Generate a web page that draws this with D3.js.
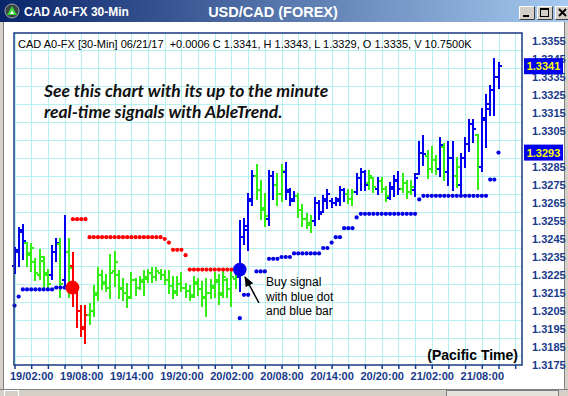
<!DOCTYPE html>
<html>
<head>
<meta charset="utf-8">
<script src="https://cdn.jsdelivr.net/npm/d3@7"></script>
<style>
  body { margin: 0; background: #fff; overflow: hidden; }
  text { font-family: "Liberation Sans", Arial, sans-serif; }
</style>
</head>
<body>
<div id="chart"></div>
<script>
// 30-min bars from 19/00:00 to 21/10:00 (117 bars)
const startTime = new Date(2017, 5, 19, 0, 0);

const opens = [
  1.3230, 1.3238, 1.3249, 1.3243, 1.3237, 1.3232, 1.3225, 1.3233, 1.3225, 1.3225,
  1.3238, 1.3242, 1.3222, 1.3238, 1.3230, 1.3215, 1.3205, 1.3195, 1.3203, 1.3205,
  1.3214, 1.3225, 1.3221, 1.3218, 1.3227, 1.3225, 1.3217, 1.3215, 1.3213, 1.3222,
  1.3218, 1.3221, 1.3223, 1.3226, 1.3224, 1.3226, 1.3225, 1.3222, 1.3219, 1.3216,
  1.3220, 1.3218, 1.3216, 1.3214, 1.3220, 1.3217, 1.3212, 1.3215, 1.3218, 1.3221,
  1.3215, 1.3222, 1.3217, 1.3223, 1.3224, 1.3246, 1.3250, 1.3267, 1.3280, 1.3272,
  1.3261, 1.3256, 1.3280, 1.3275, 1.3270, 1.3282, 1.3271, 1.3267, 1.3269, 1.3261,
  1.3256, 1.3253, 1.3255, 1.3265, 1.3260, 1.3266, 1.3266, 1.3265, 1.3266, 1.3272,
  1.3270, 1.3267, 1.3271, 1.3279, 1.3282, 1.3276, 1.3279, 1.3273, 1.3277, 1.3273,
  1.3268, 1.3273, 1.3277, 1.3273, 1.3276, 1.3271, 1.3272, 1.3281, 1.3293, 1.3291,
  1.3284, 1.3289, 1.3284, 1.3296, 1.3282, 1.3290, 1.3280, 1.3275, 1.3290, 1.3298,
  1.3309, 1.3303, 1.3285, 1.3311, 1.3320, 1.3328, 1.3335
];
const highs = [
  1.3240, 1.3251, 1.3253, 1.3243, 1.3242, 1.3234, 1.3239, 1.3235, 1.3228, 1.3241,
  1.3245, 1.3245, 1.3258, 1.3245, 1.3237, 1.3217, 1.3208, 1.3208, 1.3209, 1.3219,
  1.3229, 1.3227, 1.3225, 1.3236, 1.3238, 1.3227, 1.3223, 1.3220, 1.3226, 1.3223,
  1.3224, 1.3227, 1.3228, 1.3229, 1.3229, 1.3228, 1.3227, 1.3227, 1.3224, 1.3224,
  1.3226, 1.3220, 1.3219, 1.3224, 1.3223, 1.3221, 1.3223, 1.3222, 1.3226, 1.3225,
  1.3227, 1.3223, 1.3227, 1.3226, 1.3255, 1.3256, 1.3270, 1.3283, 1.3286, 1.3277,
  1.3270, 1.3283, 1.3282, 1.3281, 1.3286, 1.3287, 1.3273, 1.3271, 1.3270, 1.3264,
  1.3259, 1.3258, 1.3268, 1.3266, 1.3269, 1.3272, 1.3267, 1.3268, 1.3274, 1.3273,
  1.3272, 1.3272, 1.3281, 1.3284, 1.3283, 1.3283, 1.3279, 1.3279, 1.3279, 1.3274,
  1.3276, 1.3280, 1.3282, 1.3281, 1.3277, 1.3277, 1.3281, 1.3299, 1.3302, 1.3294,
  1.3296, 1.3291, 1.3301, 1.3298, 1.3299, 1.3299, 1.3290, 1.3292, 1.3301, 1.3311,
  1.3311, 1.3303, 1.3317, 1.3325, 1.3330, 1.3345, 1.3343
];
const lows = [
  1.3226, 1.3230, 1.3234, 1.3230, 1.3227, 1.3222, 1.3223, 1.3217, 1.3217, 1.3223,
  1.3233, 1.3213, 1.3218, 1.3213, 1.3208, 1.3196, 1.3191, 1.3187, 1.3198, 1.3202,
  1.3211, 1.3217, 1.3216, 1.3212, 1.3219, 1.3212, 1.3211, 1.3207, 1.3212, 1.3214,
  1.3217, 1.3214, 1.3221, 1.3221, 1.3222, 1.3223, 1.3220, 1.3215, 1.3212, 1.3214,
  1.3216, 1.3213, 1.3211, 1.3213, 1.3214, 1.3208, 1.3202, 1.3212, 1.3213, 1.3209,
  1.3213, 1.3213, 1.3208, 1.3218, 1.3216, 1.3242, 1.3239, 1.3264, 1.3267, 1.3256,
  1.3252, 1.3253, 1.3267, 1.3264, 1.3266, 1.3267, 1.3264, 1.3266, 1.3257, 1.3252,
  1.3251, 1.3249, 1.3253, 1.3256, 1.3260, 1.3262, 1.3263, 1.3264, 1.3264, 1.3266,
  1.3265, 1.3264, 1.3270, 1.3272, 1.3272, 1.3273, 1.3271, 1.3270, 1.3271, 1.3266,
  1.3267, 1.3269, 1.3270, 1.3271, 1.3268, 1.3270, 1.3269, 1.3281, 1.3286, 1.3279,
  1.3282, 1.3281, 1.3280, 1.3278, 1.3275, 1.3272, 1.3274, 1.3269, 1.3285, 1.3294,
  1.3299, 1.3273, 1.3283, 1.3296, 1.3314, 1.3314, 1.3329
];
const closes = [
  1.3239, 1.3250, 1.3244, 1.3236, 1.3240, 1.3226, 1.3235, 1.3226, 1.3220, 1.3238,
  1.3243, 1.3220, 1.3238, 1.3229, 1.3215, 1.3205, 1.3196, 1.3203, 1.3205, 1.3215,
  1.3225, 1.3220, 1.3218, 1.3226, 1.3232, 1.3218, 1.3215, 1.3212, 1.3222, 1.3218,
  1.3222, 1.3224, 1.3226, 1.3224, 1.3227, 1.3225, 1.3222, 1.3219, 1.3215, 1.3220,
  1.3218, 1.3216, 1.3213, 1.3221, 1.3217, 1.3213, 1.3215, 1.3219, 1.3222, 1.3214,
  1.3224, 1.3217, 1.3224, 1.3224, 1.3246, 1.3252, 1.3266, 1.3280, 1.3272, 1.3262,
  1.3258, 1.3280, 1.3275, 1.3270, 1.3283, 1.3272, 1.3266, 1.3269, 1.3261, 1.3256,
  1.3254, 1.3255, 1.3265, 1.3259, 1.3267, 1.3270, 1.3265, 1.3267, 1.3272, 1.3270,
  1.3267, 1.3271, 1.3279, 1.3282, 1.3275, 1.3280, 1.3274, 1.3277, 1.3273, 1.3269,
  1.3274, 1.3278, 1.3273, 1.3276, 1.3271, 1.3274, 1.3279, 1.3293, 1.3292, 1.3284,
  1.3289, 1.3284, 1.3297, 1.3282, 1.3290, 1.3280, 1.3285, 1.3290, 1.3298, 1.3309,
  1.3306, 1.3285, 1.3312, 1.3317, 1.3328, 1.3335, 1.3341
];
// b = up trend (blue), g = neutral (green), r = down trend (red)
const trend = (
  "bbbggggggb" + "bgbgrrrrgg" + "gggggggggg" + "gggggggggg" + "gggggggggg" +
  "ggggbbbbgg" + "gbbggbbbgg" + "ggbbbbbbbb" + "ggbbbggbgg" + "bbbgggbbbg" +
  "ggbgbbgbbb" + "bgbbbbb"
).split("");

// AbleTrend stop dots
const supportDots = [
  1.3208, 1.3213, 1.3217, 1.3217, 1.3217, 1.3217, 1.3217, 1.3217, 1.3217, 1.3217,
  1.3218, 1.3218, 1.3218, null, null, null, null, null, null, null,
  null, null, null, null, null, null, null, null, null, null,
  null, null, null, null, null, null, null, null, null, null,
  null, null, null, null, null, null, null, null, null, null,
  null, null, null, null, 1.3201, 1.3214, 1.3214, null, 1.3227, 1.3227,
  1.3227, 1.3234, 1.3234, 1.3234, 1.3235, 1.3235, 1.3235, 1.3237, 1.3237, 1.3237,
  1.3237, 1.3237, 1.3237, 1.3237, 1.3240, 1.3240, 1.3243, 1.3246, 1.3246, 1.3251,
  1.3251, 1.3251, 1.3257, 1.3259, 1.3259, 1.3259, 1.3259, 1.3259, 1.3259, 1.3259,
  1.3259, 1.3259, 1.3259, 1.3259, 1.3259, 1.3259, 1.3259, 1.3267, 1.3269, 1.3269,
  1.3269, 1.3269, 1.3269, 1.3269, 1.3269, 1.3269, 1.3269, 1.3269, 1.3269, 1.3269,
  1.3269, 1.3269, 1.3269, 1.3269, 1.3278, 1.3278, 1.3293
];
const resistDots = [
  null, null, null, null, null, null, null, null, null, null,
  null, null, null, null, 1.3256, 1.3256, 1.3256, 1.3256, 1.3246, 1.3246,
  1.3246, 1.3246, 1.3246, 1.3246, 1.3246, 1.3246, 1.3246, 1.3246, 1.3246, 1.3246,
  1.3246, 1.3246, 1.3246, 1.3246, 1.3246, 1.3246, 1.3245, 1.3243, 1.3239, 1.3239,
  1.3239, 1.3236, 1.3228, 1.3228, 1.3228, 1.3228, 1.3228, 1.3228, 1.3228, 1.3228,
  1.3228, 1.3228, 1.3228, 1.3228
];
const sellSignal = { index: 14, price: 1.3218 };
const buySignal = { index: 54, price: 1.3228 };

// 1.3295 sits under the 1.3293 box in the original, so it is left out
const yLabelValues = [1.3355, 1.3345, 1.3335, 1.3325, 1.3315, 1.3305, 1.3285, 1.3275,
  1.3265, 1.3255, 1.3245, 1.3235, 1.3225, 1.3215, 1.3205, 1.3195, 1.3185, 1.3175];
const labelHours = [2, 8, 14, 20];

function renderChart() {
  const width = 568;
  const height = 396;
  const plot = { left: 14, right: 522, top: 33, bottom: 365 };
  const axisBlue = "#17398a";
  const colors = { b: "#0000f0", g: "#33ee14", r: "#ff0000" };

  const svg = d3.select("#chart")
    .append("svg")
    .attr("width", width)
    .attr("height", height);

  const defs = svg.append("defs");
  const grad = defs.append("linearGradient").attr("id", "titleGrad");
  grad.append("stop").attr("offset", "0%").attr("stop-color", "#0a246a");
  grad.append("stop").attr("offset", "100%").attr("stop-color", "#a6caf0");

  defs.append("marker")
    .attr("id", "arrowhead")
    .attr("viewBox", "0 -5 10 10")
    .attr("refX", 9)
    .attr("refY", 0)
    .attr("orient", "auto")
    .attr("markerWidth", 7)
    .attr("markerHeight", 7)
    .append("path")
    .attr("d", "M0,-4L10,0L0,4Z")
    .attr("fill", "#000");

  defs.append("clipPath").attr("id", "plotClip")
    .append("rect")
    .attr("x", plot.left).attr("y", plot.top)
    .attr("width", plot.right - plot.left).attr("height", plot.bottom - plot.top);

  // window background
  svg.append("rect").attr("width", width).attr("height", height).attr("fill", "#fff");

  // title bar
  svg.append("rect").attr("x", 0).attr("y", 0).attr("width", width).attr("height", 22)
    .attr("fill", "url(#titleGrad)");
  const icon = svg.append("g").attr("transform", "translate(12,11)");
  icon.append("circle").attr("r", 7).attr("fill", "#3a4646").attr("stroke", "#9aa");
  icon.append("path").attr("d", "M0,-5L5,4L-5,4Z").attr("fill", "#39d239");
  icon.append("path").attr("d", "M0,-1L2,3L-2,3Z").attr("fill", "#fff");
  svg.append("text").attr("x", 24).attr("y", 16)
    .attr("fill", "#fff").attr("font-weight", "bold").attr("font-size", 12)
    .text("CAD A0-FX 30-Min");
  svg.append("text").attr("x", 273).attr("y", 17).attr("text-anchor", "middle")
    .attr("fill", "#fff").attr("font-weight", "bold").attr("font-size", 14.5)
    .text("USD/CAD (FOREX)");

  const buttons = [519, 537, 555];
  buttons.forEach((bx, k) => {
    const b = svg.append("g").attr("transform", `translate(${bx},6)`);
    b.append("rect").attr("width", 16).attr("height", 14).attr("fill", "#d4d0c8");
    b.append("path").attr("d", "M0.5,13.5V0.5H15.5").attr("fill", "none").attr("stroke", "#fff");
    b.append("path").attr("d", "M0.5,13.5H15.5V0.5").attr("fill", "none").attr("stroke", "#404040");
    if (k === 0) b.append("rect").attr("x", 4).attr("y", 9).attr("width", 6).attr("height", 2).attr("fill", "#000");
    if (k === 1) {
      b.append("rect").attr("x", 3.5).attr("y", 2.5).attr("width", 8).attr("height", 8)
        .attr("fill", "none").attr("stroke", "#000");
      b.append("rect").attr("x", 3.5).attr("y", 2.5).attr("width", 8).attr("height", 1.5).attr("fill", "#000");
    }
    if (k === 2) b.append("path").attr("d", "M4,3L11,10M11,3L4,10").attr("stroke", "#000").attr("stroke-width", 1.8);
  });

  // window frame
  svg.append("rect").attr("x", 0).attr("y", 22).attr("width", 3).attr("height", height - 22).attr("fill", "#d4d0c8");
  svg.append("line").attr("x1", 3.5).attr("x2", 3.5).attr("y1", 22).attr("y2", 389).attr("stroke", "#808080");
  svg.append("rect").attr("x", 565).attr("y", 22).attr("width", 3).attr("height", height - 22).attr("fill", "#d4d0c8");
  svg.append("line").attr("x1", 564.5).attr("x2", 564.5).attr("y1", 22).attr("y2", 389).attr("stroke", "#808080");
  svg.append("rect").attr("x", 0).attr("y", 389).attr("width", width).attr("height", 7).attr("fill", "#d4d0c8");
  svg.append("line").attr("x1", 0).attr("x2", width).attr("y1", 389.5).attr("y2", 389.5).attr("stroke", "#808080");
  svg.append("rect").attr("x", 4.5).attr("y", 390.5).attr("width", 14).attr("height", 6)
    .attr("fill", "#d4d0c8").attr("stroke", "#fff");
  svg.append("rect").attr("x", 446.5).attr("y", 390.5).attr("width", 112).attr("height", 6)
    .attr("fill", "#e4e2dc").attr("stroke", "#808080");

  // scales
  const times = opens.map((_, i) => d3.timeMinute.offset(startTime, 30 * i));
  const x = d3.scaleTime()
    .domain([times[0], times[times.length - 1]])
    .range([14.5, 498.5]);
  const y = d3.scaleLinear()
    .domain([1.3175, 1.3360])
    .range([plot.bottom, plot.top - 1]);

  const hourTicks = d3.timeHour.every(2).range(times[0], x.invert(plot.right));

  // grid
  const grid = svg.append("g").attr("clip-path", "url(#plotClip)");
  grid.selectAll("line.v")
    .data(hourTicks)
    .enter()
    .append("line")
    .attr("x1", d => Math.round(x(d)) + 0.5)
    .attr("x2", d => Math.round(x(d)) + 0.5)
    .attr("y1", plot.top)
    .attr("y2", plot.bottom)
    .attr("stroke", "#b6f0f0");
  grid.selectAll("line.h")
    .data(d3.range(1318, 1336).map(v => v / 1000))
    .enter()
    .append("line")
    .attr("x1", plot.left)
    .attr("x2", plot.right)
    .attr("y1", d => Math.round(y(d)) + 0.5)
    .attr("y2", d => Math.round(y(d)) + 0.5)
    .attr("stroke", "#b6f0f0");

  // header line
  svg.append("text").attr("x", 18).attr("y", 48).attr("font-size", 11).attr("fill", "#000")
    .attr("xml:space", "preserve")
    .text("CAD A0-FX [30-Min] 06/21/17  +0.0006 C 1.3341, H 1.3343, L 1.3329, O 1.3335, V 10.7500K");

  // promo text
  const promo = svg.append("g")
    .attr("font-style", "italic")
    .attr("font-weight", "bold")
    .attr("font-size", 17.5)
    .attr("fill", "#111");
  promo.append("text").attr("x", 44).attr("y", 97)
    .style("font-family", "Lato, 'Open Sans', sans-serif")
    .text("See this chart with its up to the minute");
  promo.append("text").attr("x", 44).attr("y", 118)
    .style("font-family", "Lato, 'Open Sans', sans-serif")
    .text("real-time signals with AbleTrend.");

  // OHLC bars
  const bars = svg.append("g").attr("shape-rendering", "crispEdges");
  const bar = bars.selectAll("g")
    .data(times.map((t, i) => ({ t, o: opens[i], h: highs[i], l: lows[i], c: closes[i], k: trend[i] })))
    .enter()
    .append("g")
    .attr("stroke", d => colors[d.k])
    .attr("stroke-width", 2);
  bar.append("line")
    .attr("x1", d => x(d.t)).attr("x2", d => x(d.t))
    .attr("y1", d => y(d.h) - 1).attr("y2", d => y(d.l) + 1);
  bar.append("line")
    .attr("x1", d => x(d.t) - 3).attr("x2", d => x(d.t))
    .attr("y1", d => y(d.o)).attr("y2", d => y(d.o));
  bar.append("line")
    .attr("x1", d => x(d.t)).attr("x2", d => x(d.t) + 3)
    .attr("y1", d => y(d.c)).attr("y2", d => y(d.c));

  // stop dots
  const dotData = [];
  supportDots.forEach((v, i) => { if (v != null) dotData.push({ t: times[i], v, fill: "#0000e6" }); });
  resistDots.forEach((v, i) => { if (v != null) dotData.push({ t: times[i], v, fill: "#ff0000" }); });
  svg.append("g").selectAll("circle")
    .data(dotData)
    .enter()
    .append("circle")
    .attr("cx", d => x(d.t))
    .attr("cy", d => y(d.v))
    .attr("r", 2.1)
    .attr("fill", d => d.fill);

  // signal dots
  svg.append("circle")
    .attr("cx", x(times[sellSignal.index]) - 0.5)
    .attr("cy", y(sellSignal.price))
    .attr("r", 7)
    .attr("fill", "#ff0000");
  svg.append("circle")
    .attr("cx", x(times[buySignal.index]))
    .attr("cy", y(buySignal.price))
    .attr("r", 6.8)
    .attr("fill", "#0000f0");

  // annotation
  svg.append("line")
    .attr("x1", 259).attr("y1", 303)
    .attr("x2", 245).attr("y2", 277)
    .attr("stroke", "#000").attr("stroke-width", 1.5)
    .attr("marker-end", "url(#arrowhead)");
  const note = svg.append("text").attr("font-size", 12).attr("fill", "#000");
  ["Buy signal", "with blue dot", "and blue bar"].forEach((s, k) => {
    note.append("tspan").attr("x", 266).attr("y", 286 + k * 14.5).text(s);
  });

  svg.append("text").attr("x", 518).attr("y", 360).attr("text-anchor", "end")
    .attr("font-size", 14).attr("font-weight", "bold").attr("fill", "#000")
    .text("(Pacific Time)");

  // plot frame
  svg.append("rect")
    .attr("x", plot.left).attr("y", plot.top)
    .attr("width", plot.right - plot.left).attr("height", plot.bottom - plot.top)
    .attr("fill", "none").attr("stroke", "#173a80").attr("stroke-width", 1.5);

  // x axis
  const fmt = d3.timeFormat("%d/%H:%M");
  const xAxis = svg.append("g")
    .attr("transform", `translate(0,${plot.bottom})`)
    .call(d3.axisBottom(x)
      .tickValues(hourTicks)
      .tickSize(4)
      .tickPadding(3)
      .tickFormat(d => labelHours.includes(d.getHours()) ? fmt(d) : ""));
  xAxis.select(".domain").remove();
  xAxis.selectAll("line").attr("stroke", axisBlue).attr("stroke-width", 1.5);
  xAxis.selectAll("text")
    .attr("fill", axisBlue).attr("font-size", 11).attr("font-weight", "bold")
    .attr("font-family", "'Liberation Sans', Arial, sans-serif");

  // y axis (right)
  const yAxis = svg.append("g")
    .attr("transform", `translate(${plot.right},0)`)
    .call(d3.axisRight(y)
      .tickValues(yLabelValues)
      .tickSize(0)
      .tickPadding(10)
      .tickFormat(d3.format(".4f")));
  yAxis.select(".domain").remove();
  yAxis.selectAll("text")
    .attr("fill", axisBlue).attr("font-size", 11).attr("font-weight", "bold")
    .attr("font-family", "'Liberation Sans', Arial, sans-serif");

  // last value boxes
  const boxes = [closes[closes.length - 1], supportDots[supportDots.length - 1]];
  const box = svg.append("g").selectAll("g")
    .data(boxes)
    .enter()
    .append("g")
    .attr("transform", d => `translate(524,${y(d)})`);
  box.append("rect").attr("x", 0).attr("y", -8).attr("width", 39).attr("height", 16).attr("fill", "#0000f0");
  box.append("text").attr("x", 19.5).attr("y", 4).attr("text-anchor", "middle")
    .attr("fill", "#ffff00").attr("font-size", 11).attr("font-weight", "bold")
    .text(d => d3.format(".4f")(d));
}

renderChart();
</script>
</body>
</html>
